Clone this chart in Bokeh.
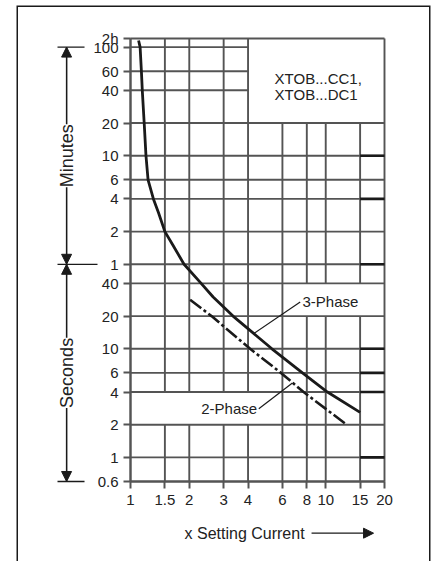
import math
from bokeh.plotting import figure
from bokeh.models import FixedTicker, Arrow, NormalHead, Label, Range1d
from bokeh.core.properties import value
from bokeh.embed import file_html
from bokeh.resources import INLINE

# ---------------- data ----------------
x_ticks = [1, 1.5, 2, 3, 4, 6, 8, 10, 15, 20]
x_tick_labels = ["1", "1.5", "2", "3", "4", "6", "8", "10", "15", "20"]

# trip time in seconds
y_ticks = [0.6, 1, 2, 4, 6, 10, 20, 40, 60, 120, 240, 360, 600, 1200, 2400, 3600, 6000, 7200]
y_tick_labels = ["0.6", "1", "2", "4", "6", "10", "20", "40",
                 "1", "2", "4", "6", "10", "20", "40", "60", "100", "2h"]

three_phase_x = [1.10, 1.12, 1.137, 1.149, 1.175, 1.20, 1.23, 1.31, 1.39, 1.5, 1.65,
                 1.88, 2.3, 2.65, 3.35, 5.3, 7.6, 10.2, 15.0]
three_phase_t = [6900, 6000, 3600, 2400, 1200, 600, 360, 240, 180, 120, 90,
                 60, 40, 30, 20, 10, 6, 4, 2.6]

two_phase_x = [2.02, 2.6, 4.1, 5.9, 7.7, 12.8]
two_phase_t = [28.3, 20, 10, 6, 4, 2.0]

# blank (label) boxes in the grid: x0, x1, t0, t1
label_boxes = [(4, 20, 1200, 7200), (6, 20, 20, 40), (1, 6, 2, 4)]
# heavier segments in the 15..20 column
emph_levels = [600, 240, 60, 10, 6, 4, 1]

# visible window of the frame (extends past the grid to hold the side notes)
X_VIEW = (0.2606, 34.41)
Y_VIEW = (0.110, 14494)

GRID = "#545454"
INK = "#1a1a1a"
TXT = "#222222"
FONT = "Liberation Sans"

p = figure(width=434, height=561, x_axis_type="log", y_axis_type="log",
           x_range=Range1d(*X_VIEW), y_range=Range1d(*Y_VIEW),
           output_backend="svg", toolbar_location=None,
           min_border_left=16, min_border_right=4, min_border_top=5, min_border_bottom=0)
p.title.visible = False
p.grid.visible = False
p.background_fill_color = "white"
p.border_fill_color = "white"
p.outline_line_color = None

# outer border (left, top, right)
p.line([X_VIEW[0], X_VIEW[0], X_VIEW[1], X_VIEW[1]], [Y_VIEW[0], Y_VIEW[1], Y_VIEW[1], Y_VIEW[0]],
       line_color=INK, line_width=3)


def subtract(lo, hi, holes):
    segs = [(lo, hi)]
    for a, b in holes:
        new = []
        for s, e in segs:
            if b <= s or a >= e:
                new.append((s, e))
            else:
                if s < a:
                    new.append((s, a))
                if b < e:
                    new.append((b, e))
        segs = new
    return segs


gx0, gy0, gx1, gy1 = [], [], [], []
for xv in x_ticks:
    holes = [(t0, t1) for (x0, x1, t0, t1) in label_boxes if x0 < xv < x1]
    for s, e in subtract(y_ticks[0], y_ticks[-1], holes):
        gx0.append(xv); gx1.append(xv); gy0.append(s); gy1.append(e)
for yv in y_ticks:
    holes = [(x0, x1) for (x0, x1, t0, t1) in label_boxes if t0 < yv < t1]
    for s, e in subtract(x_ticks[0], x_ticks[-1], holes):
        gx0.append(s); gx1.append(e); gy0.append(yv); gy1.append(yv)
p.segment(x0=gx0, y0=gy0, x1=gx1, y1=gy1, line_color=GRID, line_width=1.9)

n = len(emph_levels)
p.segment(x0=[x_ticks[-2]] * n, y0=emph_levels, x1=[x_ticks[-1]] * n, y1=emph_levels,
          line_color=INK, line_width=2.6)

# curves
p.line(three_phase_x, three_phase_t, line_color=INK, line_width=2.8, line_join="round")
p.line(two_phase_x, two_phase_t, line_color=INK, line_width=2.6, line_dash="14 3 3 3")

# leaders + labels
p.line([4.3, 7.4], [13.9, 27], line_color=INK, line_width=1.2)
p.line([4.54, 6.75], [2.8, 4.85], line_color=INK, line_width=1.2)
p.text(x=[7.6], y=[27], text=["3-Phase"], text_font=value(FONT), text_font_size="15px",
       text_color=TXT, text_align="left", text_baseline="middle")
p.text(x=[4.45], y=[2.8], text=["2-Phase"], text_font=value(FONT), text_font_size="15px",
       text_color=TXT, text_align="right", text_baseline="middle")
p.text(x=[5.47, 5.47], y=[3115, 2195], text=["XTOB...CC1,", "XTOB...DC1"],
       text_font=value(FONT), text_font_size="15px", text_color=TXT,
       text_align="left", text_baseline="middle")

# axes, pinned to the grid corner
xa, ya = p.xaxis[0], p.yaxis[0]
xa.fixed_location = y_ticks[0]
ya.fixed_location = x_ticks[0]
xa.bounds = (x_ticks[0], x_ticks[-1])
ya.bounds = (y_ticks[0], y_ticks[-1])
for ax in (xa, ya):
    ax.axis_line_color = GRID
    ax.axis_line_width = 2
    ax.major_tick_line_color = GRID
    ax.major_tick_line_width = 2
    ax.major_tick_out = 7
    ax.major_tick_in = 0
    ax.minor_tick_line_color = None
    ax.major_label_text_font = FONT
    ax.major_label_text_font_size = "15px"
    ax.major_label_text_color = TXT
xa.ticker = FixedTicker(ticks=x_ticks)
xa.major_label_overrides = {float(t): l for t, l in zip(x_ticks, x_tick_labels)}
xa.major_label_standoff = 7
ya.ticker = FixedTicker(ticks=y_ticks)
ya.major_label_overrides = {float(t): l for t, l in zip(y_ticks, y_tick_labels)}
ya.major_label_standoff = 5

# ---- side notes ----
ax_x = 0.4705
bar_l, bar_r, bar_r2 = 0.4227, 0.5813, 0.6775
t_min_top, t_min_bot, t_sec_bot = 6000, 60, 0.6

p.line([ax_x, ax_x], [t_min_top, t_sec_bot], line_color=INK, line_width=1.3)
p.segment(x0=[bar_l, bar_l, bar_l], y0=[t_min_top, t_min_bot, t_sec_bot],
          x1=[bar_r, bar_r2, bar_r], y1=[t_min_top, t_min_bot, t_sec_bot],
          line_color=INK, line_width=1.3)

for a, b in ((t_min_top, t_min_bot), (t_min_bot, t_sec_bot)):
    p.add_layout(Arrow(x_start=ax_x, y_start=a, x_end=ax_x, y_end=b,
                       start=NormalHead(size=10, fill_color=INK, line_color=INK, line_width=1),
                       end=NormalHead(size=10, fill_color=INK, line_color=INK, line_width=1),
                       line_color=INK, line_width=1.3))

p.add_layout(Label(x=ax_x, y=600, text="Minutes", angle=math.pi / 2, text_align="center",
                   text_baseline="middle", text_font=FONT, text_font_size="18px",
                   text_color=TXT, background_fill_color="white"))
p.add_layout(Label(x=ax_x, y=6, text="Seconds", angle=math.pi / 2, text_align="center",
                   text_baseline="middle", text_font=FONT, text_font_size="18px",
                   text_color=TXT, background_fill_color="white"))

p.text(x=[1.891], y=[0.2005], text=["x Setting Current"], text_font=value(FONT),
       text_font_size="16px", text_color=TXT, text_align="left", text_baseline="middle")
p.add_layout(Arrow(x_start=8.46, y_start=0.2005, x_end=17.58, y_end=0.2005,
                   start=None,
                   end=NormalHead(size=10, fill_color=INK, line_color=INK, line_width=1),
                   line_color=INK, line_width=1.3))

open("out.html", "w").write(file_html(p, INLINE))
